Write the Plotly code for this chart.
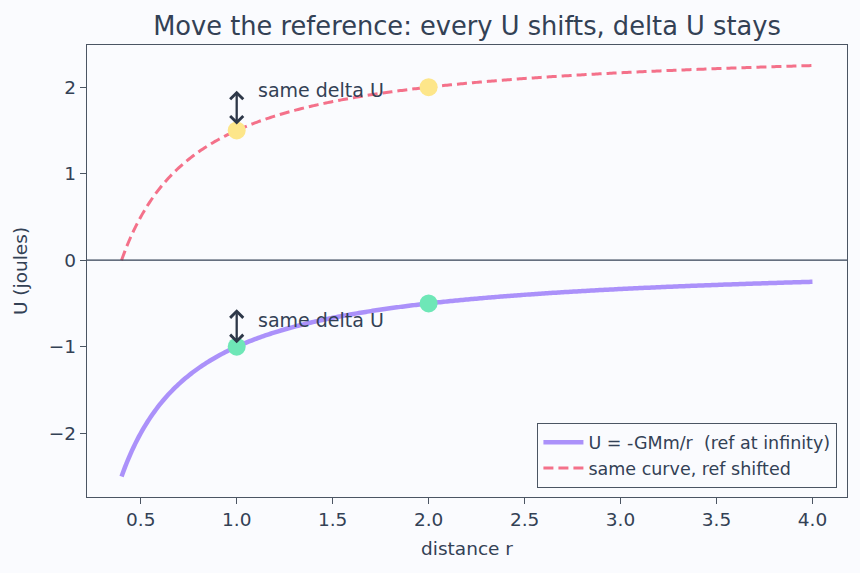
import numpy as np
import plotly.graph_objects as go

r = np.linspace(0.4, 4.0, 400)
U_inf = -1.0 / r
shift = 2.5
U_shift = U_inf + shift

pts_r = [1.0, 2.0]
pts_U = [-1.0, -0.5]
pts_U_shift = [1.5, 2.0]

text_col = "#334155"
axis_col = "#4b5563"
bg = "#fafbfe"

fig = go.Figure()
fig.add_trace(go.Scatter(x=r, y=U_inf, mode="lines",
                         line=dict(color="rgba(167,139,250,0.95)", width=4.5, simplify=False),
                         name="U = -GMm/r  (ref at infinity)"))
fig.add_trace(go.Scatter(x=r, y=U_shift, mode="lines",
                         line=dict(color="#f4718a", width=3, dash="10px,5px", simplify=False),
                         name="same curve, ref shifted"))
fig.add_trace(go.Scatter(x=pts_r, y=pts_U, mode="markers",
                         marker=dict(color="#6ee7b7", size=18), showlegend=False))
fig.add_trace(go.Scatter(x=pts_r, y=pts_U_shift, mode="markers",
                         marker=dict(color="#fde68a", size=18), showlegend=False))

fig.add_hline(y=0, line=dict(color="#334155", width=1.3))

for y0, y1, ty in [(1.55, 1.96, 1.97), (-0.55, -0.96, -0.69)]:
    fig.add_annotation(x=1.0, y=y1, ax=1.0, ay=y0, xref="x", yref="y",
                       axref="x", ayref="y", showarrow=True, arrowhead=4,
                       arrowside="end+start", arrowsize=1.1, arrowwidth=2.3,
                       arrowcolor="#2d3748", text="")
    fig.add_annotation(x=1.1, y=ty, xref="x", yref="y", text="same delta U",
                       showarrow=False, xanchor="left", yanchor="middle",
                       font=dict(size=19, color=text_col))

fig.update_layout(
    width=860, height=573,
    paper_bgcolor=bg, plot_bgcolor=bg,
    font=dict(family="DejaVu Sans", color=text_col, size=18),
    margin=dict(l=87, r=13, t=45, b=76),
    title=dict(text="Move the reference: every U shifts, delta U stays",
               x=0.5, xref="paper", xanchor="center", y=0.955, yanchor="middle",
               font=dict(size=25.7, color=text_col)),
    xaxis=dict(range=[0.22, 4.18], tickvals=[0.5, 1.0, 1.5, 2.0, 2.5, 3.0, 3.5, 4.0],
               ticktext=["0.5", "1.0", "1.5", "2.0", "2.5", "3.0", "3.5", "4.0"],
               showgrid=False, zeroline=False, showline=True, mirror=True,
               linecolor=axis_col, linewidth=1.3, ticks="outside", ticklen=6,
               tickcolor=axis_col, tickfont=dict(size=18.5, color=text_col),
               title=dict(text="distance r", font=dict(size=18.5, color=text_col), standoff=12)),
    yaxis=dict(range=[-2.7375, 2.4875], tickvals=[-2, -1, 0, 1, 2],
               ticktext=["−2", "−1", "0", "1", "2"],
               showgrid=False, zeroline=False, showline=True, mirror=True,
               linecolor=axis_col, linewidth=1.3, ticks="outside", ticklen=6,
               tickcolor=axis_col, tickfont=dict(size=18.5, color=text_col),
               title=dict(text="U (joules)", font=dict(size=18.5, color=text_col), standoff=16)),
    legend=dict(x=0.987, y=0.02, xanchor="right", yanchor="bottom",
                bgcolor="rgba(250,251,254,0.9)", bordercolor=axis_col, borderwidth=1.3,
                font=dict(size=17.5, color=text_col), tracegroupgap=0, itemwidth=40),
    showlegend=True,
)

fig.write_html("out.html")
